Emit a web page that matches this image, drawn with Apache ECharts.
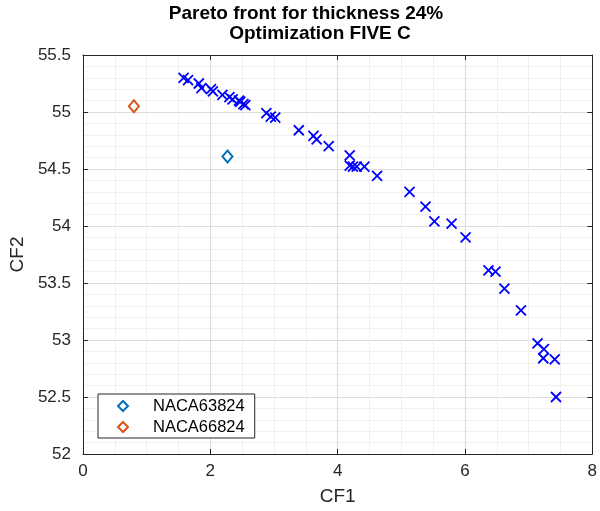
<!DOCTYPE html>
<html>
<head>
<meta charset="utf-8">
<script src="https://cdn.jsdelivr.net/npm/echarts@6/dist/echarts.min.js"></script>
<style>
  html, body { margin: 0; padding: 0; background: #fff; }
  #chart { width: 600px; height: 511px; }
</style>
</head>
<body>
<div id="chart"></div>
<script>
// Pareto front samples (CF1, CF2)
const paretoCF1 = [1.58, 1.65, 1.82, 1.86, 2.01, 2.04, 2.19, 2.30, 2.35, 2.45, 2.47, 2.52, 2.55,
  2.88, 2.95, 3.02, 3.39, 3.62, 3.67, 3.86, 4.19, 4.19, 4.24, 4.30, 4.42, 4.62,
  5.13, 5.38, 5.52, 5.79, 6.01, 6.37, 6.48, 6.62, 6.88, 7.14, 7.24, 7.23, 7.41, 7.43];
const paretoCF2 = [55.30, 55.28, 55.25, 55.21, 55.20, 55.18, 55.15, 55.13, 55.11, 55.10, 55.09, 55.07, 55.06,
  54.99, 54.96, 54.95, 54.84, 54.79, 54.76, 54.70, 54.62, 54.53, 54.52, 54.52, 54.52, 54.44,
  54.30, 54.17, 54.04, 54.02, 53.90, 53.61, 53.60, 53.45, 53.26, 52.97, 52.92, 52.84, 52.83, 52.50];

// Reference airfoils
const refNames = ['NACA63824', 'NACA66824'];
const refCF1 = [2.27, 0.80];
const refCF2 = [54.61, 55.05];
const refColors = ['#0072BD', '#D95319'];

const xTicks = [0, 2, 4, 6, 8];
const yTicks = [52, 52.5, 53, 53.5, 54, 54.5, 55, 55.5];

const titleLines = ['Pareto front for thickness 24%', 'Optimization FIVE C'];

const font = 'Liberation Sans, Arial, Helvetica, sans-serif';
const grid = { left: 82.5, right: 4, top: 55, bottom: 56 };

function axisCommon(show) {
  return {
    axisLine: { show: true, onZero: false, lineStyle: { color: '#262626', width: 1 } },
    axisTick: { show: true, inside: true, length: 5, lineStyle: { color: '#262626' } },
    axisLabel: { show: show, color: '#262626', fontSize: 17, fontFamily: font },
    splitLine: { show: show, lineStyle: { color: '#dcdcdc', width: 1 } },
    minorSplitLine: { show: show, lineStyle: { color: '#f0f0f0', width: 1 } }
  };
}

const xBase = { type: 'value', min: xTicks[0], max: xTicks[xTicks.length - 1], interval: 2 };
const yBase = { type: 'value', min: yTicks[0], max: yTicks[yTicks.length - 1], interval: 0.5 };

const pareto = paretoCF1.map((x, i) => [x, paretoCF2[i]]);

// Cross and open-diamond markers
const crossPath = 'path://M0,0L10,10M10,0L0,10';
const diamondPath = 'path://M5,0L10,5L5,10L0,5Z';

const series = [
  {
    name: 'Pareto', type: 'scatter', data: pareto,
    symbol: crossPath, symbolSize: 10,
    itemStyle: { color: 'rgba(0,0,0,0)', borderColor: '#0000FF', borderWidth: 1.8, opacity: 1 },
    z: 3
  }
];
refNames.forEach((name, i) => {
  series.push({
    name: name, type: 'scatter', data: [[refCF1[i], refCF2[i]]],
    symbol: diamondPath, symbolSize: [10, 12],
    itemStyle: { color: '#fff', borderColor: refColors[i], borderWidth: 2, opacity: 1 },
    z: 4
  });
});

const titleStyle = { fontSize: 19, fontWeight: 'bold', color: '#000', fontFamily: font, lineHeight: 20 };

const chart = echarts.init(document.getElementById('chart'), null, { renderer: 'canvas' });
chart.setOption({
  animation: false,
  backgroundColor: '#fff',
  textStyle: { fontFamily: font },
  title: [
    { text: titleLines[0], left: 306, top: 4, textAlign: 'center', padding: 0, textStyle: titleStyle },
    { text: titleLines[1], left: 320, top: 24, textAlign: 'center', padding: 0, textStyle: titleStyle }
  ],
  grid: grid,
  legend: {
    data: refNames,
    orient: 'vertical', left: 98, top: 394,
    itemGap: 3,
    padding: [3, 10, 2, 19],
    backgroundColor: '#fff', borderColor: '#262626', borderWidth: 1,
    itemWidth: 10, itemHeight: 14,
    itemStyle: { borderWidth: 2 },
    textStyle: { fontSize: 16.5, lineHeight: 18, color: '#000', fontFamily: font, padding: [0, 0, 0, 20] }
  },
  xAxis: [
    Object.assign({}, xBase, axisCommon(true), {
      position: 'bottom',
      name: 'CF1', nameLocation: 'middle', nameGap: 33,
      nameTextStyle: { fontSize: 19, color: '#262626', fontFamily: font },
      minorTick: { show: false, splitNumber: 4 },
      axisLabel: { show: true, color: '#262626', fontSize: 17, fontFamily: font, margin: 9 }
    }),
    Object.assign({}, xBase, axisCommon(false), { position: 'top' })
  ],
  yAxis: [
    Object.assign({}, yBase, axisCommon(true), {
      position: 'left',
      name: 'CF2', nameLocation: 'middle', nameGap: 55, nameRotate: 90,
      nameTextStyle: { fontSize: 19, color: '#262626', fontFamily: font },
      minorTick: { show: false, splitNumber: 5 },
      axisLabel: { show: true, color: '#262626', fontSize: 17, fontFamily: font, margin: 12 }
    }),
    Object.assign({}, yBase, axisCommon(false), { position: 'right' })
  ],
  series: series
});
</script>
</body>
</html>
